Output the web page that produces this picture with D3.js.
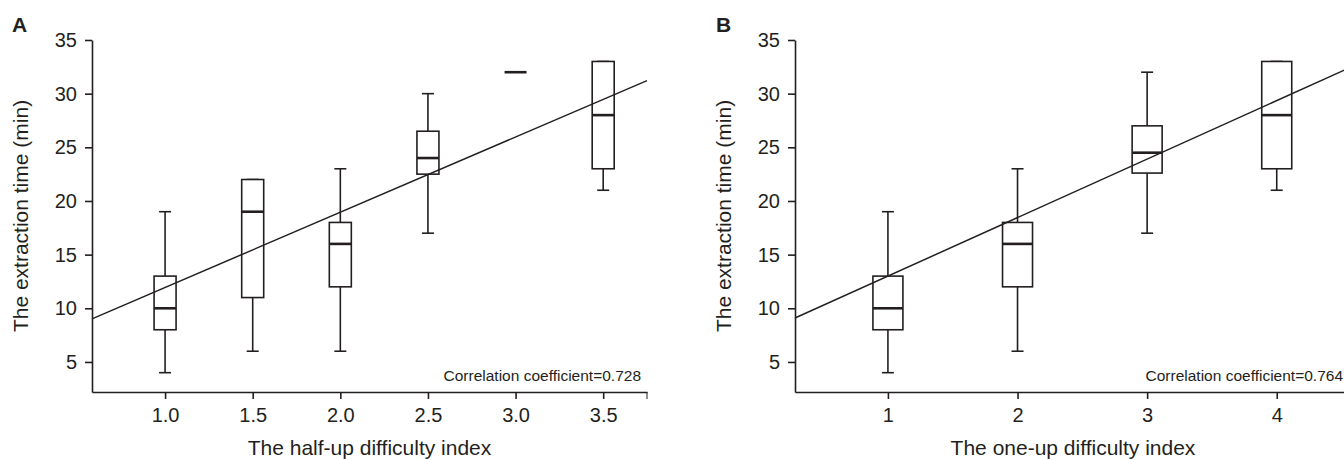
<!DOCTYPE html>
<html>
<head>
<meta charset="utf-8">
<script src="https://cdn.jsdelivr.net/npm/d3@7"></script>
<style>
  html, body { margin: 0; padding: 0; background: #fff; }
  svg { display: block; font-family: Arial, "Liberation Sans", Helvetica, sans-serif; }
</style>
</head>
<body>
<div id="container"></div>
<script>
const { d3 } = window;
const INK = '#231f20';
const FONT = 'Arial, "Liberation Sans", Helvetica, sans-serif';
const W = 1344;
const H = 459;

// panel A: half-up difficulty index
const halfUpCats = [1.0, 1.5, 2.0, 2.5, 3.0, 3.5];
const halfUpMin = [4, 6, 6, 17, 32, 21];
const halfUpQ1 = [8, 11, 12, 22.5, 32, 23];
const halfUpMed = [10, 19, 16, 24, 32, 28];
const halfUpQ3 = [13, 22, 18, 26.5, 32, 33];
const halfUpMax = [19, 22, 23, 30, 32, 33];
const halfUpFit = [7.01, 4.93]; // slope, intercept
const halfUpR = '0.728';

// panel B: one-up difficulty index
const oneUpCats = [1, 2, 3, 4];
const oneUpMin = [4, 6, 17, 21];
const oneUpQ1 = [8, 12, 22.6, 23];
const oneUpMed = [10, 16, 24.5, 28];
const oneUpQ3 = [13, 18, 27, 33];
const oneUpMax = [19, 23, 32, 33];
const oneUpFit = [5.45, 7.55];
const oneUpR = '0.764';

const yTicks = [5, 10, 15, 20, 25, 30, 35];

const svg = d3.select('#container')
  .append('svg')
  .attr('width', W)
  .attr('height', H);

function drawPanel(p) {
  const g = svg.append('g');
  const x = d3.scaleLinear().domain(p.xDomain).range([p.left, p.right]);
  const y = d3.scaleLinear().domain([2.2, 35]).range([392, 40]);

  // y axis
  const yAxis = g.append('g')
    .attr('transform', `translate(${p.left},0)`)
    .call(d3.axisLeft(y).tickValues(yTicks).tickSize(7).tickPadding(8).tickSizeOuter(0))
    .attr('font-family', FONT);
  yAxis.selectAll('text').style('font-size', '20px').attr('fill', INK);

  // x axis
  const xAxis = g.append('g')
    .attr('transform', 'translate(0,392)')
    .call(d3.axisBottom(x).tickValues(p.cats).tickFormat(p.fmt).tickSize(7).tickPadding(9).tickSizeOuter(0))
    .attr('font-family', FONT);
  xAxis.selectAll('text').style('font-size', '20px').attr('fill', INK);
  xAxis.append('line')
    .attr('x1', x(p.xDomain[1])).attr('x2', x(p.xDomain[1]))
    .attr('y1', 0).attr('y2', 7)
    .attr('stroke', INK);

  g.selectAll('.domain, .tick line').attr('stroke', INK).attr('stroke-width', 1.6);

  // boxes
  const boxes = g.selectAll('.box')
    .data(p.cats.map((c, i) => ({ c, lo: p.min[i], q1: p.q1[i], med: p.med[i], q3: p.q3[i], hi: p.max[i] })))
    .join('g')
    .attr('class', 'box')
    .attr('stroke', INK)
    .attr('stroke-width', 1.6);

  boxes.append('line')
    .attr('x1', d => x(d.c)).attr('x2', d => x(d.c))
    .attr('y1', d => y(d.hi)).attr('y2', d => y(d.lo));
  boxes.append('line')
    .attr('x1', d => x(d.c) - 6).attr('x2', d => x(d.c) + 6)
    .attr('y1', d => y(d.hi)).attr('y2', d => y(d.hi));
  boxes.append('line')
    .attr('x1', d => x(d.c) - 6).attr('x2', d => x(d.c) + 6)
    .attr('y1', d => y(d.lo)).attr('y2', d => y(d.lo));
  boxes.append('rect')
    .attr('x', d => x(d.c) - p.boxW / 2)
    .attr('width', p.boxW)
    .attr('y', d => y(d.q3))
    .attr('height', d => y(d.q1) - y(d.q3))
    .attr('fill', '#fff');
  boxes.append('line')
    .attr('x1', d => x(d.c) - p.boxW / 2).attr('x2', d => x(d.c) + p.boxW / 2)
    .attr('y1', d => y(d.med)).attr('y2', d => y(d.med))
    .attr('stroke-width', 2.6);

  // regression line
  const line = d3.line().x(d => x(d)).y(d => y(p.fit[0] * d + p.fit[1]));
  g.append('path')
    .attr('d', line(p.xDomain))
    .attr('fill', 'none')
    .attr('stroke', INK)
    .attr('stroke-width', 1.5);

  g.append('text')
    .attr('x', p.rX)
    .attr('y', 381)
    .attr('text-anchor', 'end')
    .attr('fill', INK)
    .style('font-size', '15.5px')
    .text(`Correlation coefficient=${p.r}`);

  g.append('text')
    .attr('x', (p.left + p.right) / 2)
    .attr('y', 455)
    .attr('text-anchor', 'middle')
    .attr('fill', INK)
    .style('font-size', '21px')
    .text(p.xTitle);

  g.append('text')
    .attr('transform', `translate(${p.yTitleX},216) rotate(-90)`)
    .attr('text-anchor', 'middle')
    .attr('fill', INK)
    .style('font-size', '21px')
    .text('The extraction time (min)');

  g.append('text')
    .attr('x', p.labelX)
    .attr('y', 32)
    .attr('fill', INK)
    .style('font-size', '21px')
    .style('font-weight', 'bold')
    .text(p.label);
}

drawPanel({
  label: 'A', labelX: 12, left: 92, right: 647, xDomain: [0.583, 3.75],
  cats: halfUpCats, min: halfUpMin, q1: halfUpQ1, med: halfUpMed, q3: halfUpQ3, max: halfUpMax,
  fit: halfUpFit, r: halfUpR, rX: 641, boxW: 22, fmt: d3.format('.1f'),
  xTitle: 'The half-up difficulty index', yTitleX: 28
});

drawPanel({
  label: 'B', labelX: 716, left: 795, right: 1351, xDomain: [0.283, 4.573],
  cats: oneUpCats, min: oneUpMin, q1: oneUpQ1, med: oneUpMed, q3: oneUpQ3, max: oneUpMax,
  fit: oneUpFit, r: oneUpR, rX: 1343, boxW: 30, fmt: d3.format('d'),
  xTitle: 'The one-up difficulty index', yTitleX: 731
});
</script>
</body>
</html>
